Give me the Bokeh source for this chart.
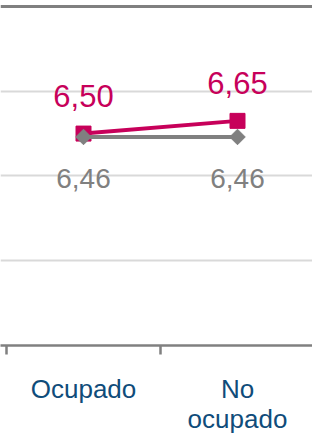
import math
from bokeh.plotting import figure
from bokeh.models import ColumnDataSource, FixedTicker, Span, Range1d
from bokeh.core.properties import value
from bokeh.embed import file_html
from bokeh.resources import INLINE

categories = ["Ocupado", "No\nocupado"]
serie_rosa = [6.50, 6.65]
serie_gris = [6.46, 6.46]
etiquetas_rosa = ["6,50", "6,65"]
etiquetas_gris = ["6,46", "6,46"]
y_ticks = [5, 6, 7]

ROSA = "#c7005a"
GRIS = "#808080"
AZUL = "#0f4c7a"
FONT = "Liberation Sans"

xs = [i + 0.5 for i in range(len(categories))]
src = ColumnDataSource(dict(x=xs, rosa=serie_rosa, gris=serie_gris,
                            lr=etiquetas_rosa, lg=etiquetas_gris))

p = figure(width=312, height=436, output_backend="svg", toolbar_location=None,
           x_range=Range1d(-0.039, 1.987), y_range=Range1d(4, 8.07),
           min_border_left=0, min_border_right=0, min_border_top=0)
p.outline_line_color = None
p.background_fill_color = "white"
p.border_fill_color = "white"

p.yaxis.visible = False
p.ygrid.ticker = FixedTicker(ticks=y_ticks)
p.ygrid.grid_line_color = "#d9d9d9"
p.ygrid.grid_line_width = 2
p.xgrid.visible = False

top = Span(location=8, dimension="width", line_color=GRIS, line_width=3)
p.add_layout(top)

ax = p.xaxis[0]
ax.ticker = FixedTicker(ticks=xs, minor_ticks=list(range(len(categories) + 1)))
ax.major_label_overrides = {x: c for x, c in zip(xs, categories)}
ax.axis_line_color = GRIS
ax.axis_line_width = 2.5
ax.major_tick_line_color = None
ax.major_tick_out = 0
ax.major_tick_in = 0
ax.minor_tick_line_color = GRIS
ax.minor_tick_line_width = 2.5
ax.minor_tick_out = 9
ax.minor_tick_in = 0
ax.major_label_text_font = FONT
ax.major_label_text_font_size = "26px"
ax.major_label_text_color = AZUL
ax.major_label_standoff = 19
ax.major_label_text_line_height = 1.0

p.line("x", "rosa", source=src, line_color=ROSA, line_width=4)
p.scatter("x", "rosa", source=src, marker="square", size=15,
          fill_color=ROSA, line_color=ROSA)
p.line("x", "gris", source=src, line_color=GRIS, line_width=4)
p.scatter("x", "gris", source=src, marker="square", angle=math.pi / 4, size=11,
          fill_color=GRIS, line_color=GRIS)

p.text("x", "rosa", text="lr", source=src, text_color=ROSA,
       text_font=value(FONT), text_font_size="31px",
       text_align="center", text_baseline="middle", y_offset=-38)
p.text("x", "gris", text="lg", source=src, text_color=GRIS,
       text_font=value(FONT), text_font_size="28px",
       text_align="center", text_baseline="middle", y_offset=42)

open("out.html", "w").write(file_html(p, INLINE))
